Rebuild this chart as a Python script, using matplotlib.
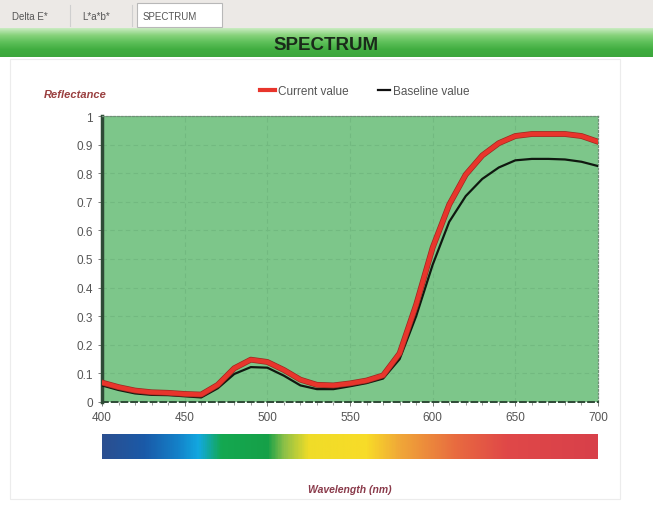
import numpy as np
import matplotlib
matplotlib.use("Agg")
import matplotlib.pyplot as plt
import matplotlib.patheffects as pe
from matplotlib.colors import LinearSegmentedColormap
from matplotlib.patches import Rectangle

plt.rcParams['font.family'] = ['Liberation Sans', 'DejaVu Sans']

# data
wavelength = [400, 410, 420, 430, 440, 450, 460, 470, 480, 490, 500, 510, 520, 530, 540,
              550, 560, 570, 580, 590, 600, 610, 620, 630, 640, 650, 660, 670, 680, 690, 700]
current = [0.068, 0.052, 0.040, 0.034, 0.032, 0.028, 0.026, 0.060, 0.118, 0.148, 0.140, 0.112,
           0.078, 0.060, 0.058, 0.065, 0.075, 0.093, 0.170, 0.340, 0.540, 0.690, 0.795, 0.862,
           0.905, 0.930, 0.937, 0.937, 0.937, 0.930, 0.910]
baseline = [0.058, 0.042, 0.030, 0.025, 0.024, 0.020, 0.016, 0.048, 0.098, 0.122, 0.120, 0.092,
            0.058, 0.045, 0.045, 0.055, 0.066, 0.082, 0.150, 0.300, 0.480, 0.630, 0.720, 0.780,
            0.820, 0.845, 0.850, 0.850, 0.848, 0.840, 0.825]

yticks = [0, 0.1, 0.2, 0.3, 0.4, 0.5, 0.6, 0.7, 0.8, 0.9, 1]
ytick_labels = ['0', '0.1', '0.2', '0.3', '0.4', '0.5', '0.6', '0.7', '0.8', '0.9', '1']
xticks = [400, 450, 500, 550, 600, 650, 700]

# spectrum strip colour stops (wavelength, colour)
spectrum_stops = [(400, '#2b4f90'), (425, '#1a5aa8'), (445, '#1480c8'), (458, '#12a8e0'),
                  (472, '#14a850'), (500, '#16a048'), (510, '#8cc048'), (525, '#f0dc28'),
                  (560, '#f8dc28'), (580, '#f0a838'), (615, '#e86a40'), (645, '#e04848'),
                  (700, '#d8404a')]

fig = plt.figure(figsize=(6.53, 5.06), dpi=100)
fig.patch.set_facecolor('white')

# header: tab strip and green title band
fig.patches.append(Rectangle((0, 1 - 29 / 506), 1, 29 / 506, transform=fig.transFigure,
                             facecolor='#ece9e6', edgecolor='none', zorder=0))
fig.patches.append(Rectangle((137 / 653, 1 - 28 / 506), 85 / 653, 24 / 506, transform=fig.transFigure,
                             facecolor='white', edgecolor='#b8b8b8', lw=0.8, zorder=1))
for txt, xp in [('Delta E*', 12), ('L*a*b*', 82), ('SPECTRUM', 143)]:
    fig.text(xp / 653, 1 - 17 / 506, txt, fontsize=7, color='#555555', va='center', ha='left')
for xp in [70, 132]:
    fig.add_artist(plt.Line2D([xp / 653, xp / 653], [1 - 27 / 506, 1 - 6 / 506],
                              transform=fig.transFigure, color='#cfcfcf', lw=0.8))

band = fig.add_axes([0, 1 - 58 / 506, 1, 29 / 506])
grad = np.linspace(0, 1, 50).reshape(-1, 1)
band_cmap = LinearSegmentedColormap.from_list('band', ['#c8ebc0', '#86d27a', '#5cbf58', '#40ad40', '#3ca63c'])
band.imshow(grad, aspect='auto', cmap=band_cmap, extent=[0, 1, 0, 1])
band.set_axis_off()
fig.text(0.5, 1 - 46 / 506, 'SPECTRUM', fontsize=13.5, fontweight='bold', color='#1a2a1a',
         ha='center', va='center')

# faint panel outline
fig.patches.append(Rectangle((10 / 653, 6 / 506), 610 / 653, 440 / 506, transform=fig.transFigure,
                             facecolor='none', edgecolor='#ececec', lw=0.8, zorder=0))

# main chart
ax = fig.add_axes([102 / 653, 1 - 403 / 506, 496 / 653, 286 / 506])
ax.set_facecolor('#7dc68a')
ax.plot(wavelength, baseline, color='#101810', lw=1.6, zorder=3)
ax.plot(wavelength, current, color='#e8352c', lw=3.2, zorder=4,
        path_effects=[pe.Stroke(linewidth=4.2, foreground='#9a2a20'), pe.Normal()])
ax.set_xlim(400, 700)
ax.set_ylim(0, 1)
ax.set_yticks(yticks)
ax.set_yticklabels(ytick_labels)
ax.set_xticks(xticks)
ax.set_xticks(range(400, 701, 10), minor=True)
ax.grid(True, which='major', color='#72b980', lw=0.8, ls=(0, (4, 3)))
ax.tick_params(axis='both', labelsize=8.5, colors='#666666', length=3, width=0.6)
ax.tick_params(axis='x', which='minor', length=2, color='#888888')
for lab in ax.get_xticklabels() + ax.get_yticklabels():
    lab.set_color('#555555')
ax.spines['left'].set_color('#2e4a36')
ax.spines['left'].set_linewidth(2.5)
ax.spines['bottom'].set_color('#2e4a36')
ax.spines['bottom'].set_linewidth(1.4)
ax.spines['bottom'].set_linestyle((0, (3, 2)))
for s in ['top', 'right']:
    ax.spines[s].set_color('#6f8f76')
    ax.spines[s].set_linewidth(0.9)
    ax.spines[s].set_linestyle((0, (1.5, 1.5)))

fig.text(44 / 653, 1 - 95 / 506, 'Reflectance', fontsize=8, fontstyle='italic', fontweight='bold',
         color='#9a4040', ha='left', va='center')

# legend
fig.add_artist(plt.Line2D([260 / 653, 275 / 653], [1 - 91 / 506] * 2, transform=fig.transFigure,
                          color='#e8352c', lw=3))
fig.text(278 / 653, 1 - 92 / 506, 'Current value', fontsize=8.5, color='#555555', va='center')
fig.add_artist(plt.Line2D([378 / 653, 390 / 653], [1 - 91 / 506] * 2, transform=fig.transFigure,
                          color='#101010', lw=1.6))
fig.text(393 / 653, 1 - 92 / 506, 'Baseline value', fontsize=8.5, color='#555555', va='center')

# spectrum strip
cax = fig.add_axes([102 / 653, 1 - 460 / 506, 496 / 653, 25 / 506])
spec_cmap = LinearSegmentedColormap.from_list(
    'spec', [((w - 400) / 300, c) for w, c in spectrum_stops])
cax.imshow(np.linspace(400, 700, 600).reshape(1, -1), aspect='auto', cmap=spec_cmap,
           extent=[400, 700, 0, 1], vmin=400, vmax=700)
cax.set_axis_off()

fig.text(350 / 653, 1 - 490 / 506, 'Wavelength (nm)', fontsize=7.5, fontstyle='italic',
         fontweight='bold', color='#8a3a4a', ha='center', va='center')

fig.savefig('out.png', dpi=100)
